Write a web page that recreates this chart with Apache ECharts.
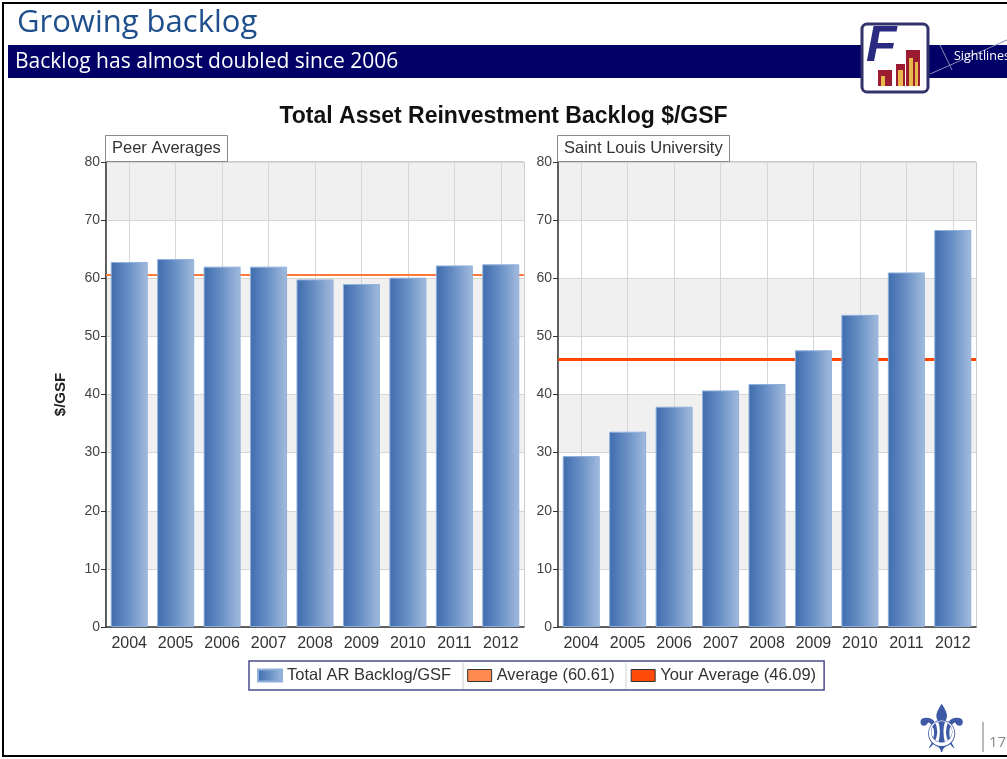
<!DOCTYPE html>
<html>
<head>
<meta charset="utf-8">
<script src="https://cdn.jsdelivr.net/npm/echarts@6/dist/echarts.min.js"></script>
<style>
html,body{margin:0;padding:0;background:#fff;}
#chart{width:1007px;height:759px;}
</style>
</head>
<body>
<div id="chart"></div>
<script>
const years = ['2004','2005','2006','2007','2008','2009','2010','2011','2012'];
const peerValues = [62.8, 63.3, 62.0, 62.0, 59.8, 59.0, 60.1, 62.2, 62.4];
const sluValues = [29.4, 33.6, 37.9, 40.7, 41.8, 47.6, 53.7, 61.0, 68.3];
const peerAverage = 60.61;
const sluAverage = 46.09;
const yMin = 0, yMax = 80, yStep = 10;
const panelNames = ['Peer Averages', 'Saint Louis University'];
const barName = 'Total AR Backlog/GSF';
const avgName = 'Average (' + peerAverage.toFixed(2) + ')';
const yourAvgName = 'Your Average (' + sluAverage.toFixed(2) + ')';

const chart = echarts.init(document.getElementById('chart'));
const F = 'Arial, "Liberation Sans", sans-serif';
const barGrad = {type:'linear',x:0,y:0,x2:1,y2:0,colorStops:[{offset:0,color:'#3f6cae'},{offset:0.5,color:'#6a91c6'},{offset:1,color:'#a2bbdc'}]};

function xAxis(i){
  return {type:'category', gridIndex:i, data:years, boundaryGap:true,
    axisLine:{lineStyle:{color:'#333',width:1.5}},
    axisTick:{alignWithLabel:true,length:5,lineStyle:{color:'#333'}},
    axisLabel:{color:'#333',fontSize:16,fontFamily:F,margin:9},
    splitLine:{show:false}};
}
function yAxis(i){
  return {type:'value', gridIndex:i, min:yMin, max:yMax, interval:yStep,
    name: i===0 ? '$/GSF' : '', nameLocation:'middle', nameGap:38,
    nameTextStyle:{fontFamily:F,fontSize:15,fontWeight:'bold',color:'#222'},
    axisLine:{show:true,lineStyle:{color:'#333',width:1.5}},
    axisTick:{show:true,length:5,lineStyle:{color:'#333'}},
    axisLabel:{color:'#444',fontSize:14,fontFamily:F,margin:6},
    splitLine:{lineStyle:{color:'#d6d6d6',width:1}},
    splitArea:{show:true,areaStyle:{color:['#ffffff','#f0f0f0']}}};
}
function vLines(i){
  return {type:'line', xAxisIndex:i, yAxisIndex:i, data:[], silent:true, z:1,
    markLine:{silent:true, z:1, symbol:['none','none'], label:{show:false},
      lineStyle:{color:'#d6d6d6',type:'solid',width:1},
      data: years.map(y => ({xAxis:y}))}};
}

const option = {
  animation:false,
  title:[
    {text:'Total Asset Reinvestment Backlog $/GSF', left:'center', top:105,
     textStyle:{fontFamily:F,fontSize:23,fontWeight:'bold',color:'#111'}, padding:0},
    {text:panelNames[0], left:105, top:135, padding:[5,7,5,7], borderColor:'#8a8a8a', borderWidth:1, backgroundColor:'#fff',
     textStyle:{fontFamily:F,fontSize:16.5,fontWeight:'normal',color:'#333'}},
    {text:panelNames[1], left:557, top:135, padding:[5,7,5,7], borderColor:'#8a8a8a', borderWidth:1, backgroundColor:'#fff',
     textStyle:{fontFamily:F,fontSize:16.5,fontWeight:'normal',color:'#333'}}
  ],
  grid:[
    {left:106, top:162, width:418, height:465, show:true, borderColor:'#999', borderWidth:1, backgroundColor:'transparent'},
    {left:558, top:162, width:418, height:465, show:true, borderColor:'#999', borderWidth:1, backgroundColor:'transparent'}
  ],
  xAxis:[xAxis(0), xAxis(1)],
  yAxis:[yAxis(0), yAxis(1)],
  legend:{
    left:249, top:661, padding:[6,8,6,8], itemWidth:24, itemHeight:12, itemGap:16,
    borderColor:'#4b4b8c', borderWidth:1.5, backgroundColor:'#fff',
    textStyle:{fontFamily:F,fontSize:16.5,color:'#333'},
    data:[
      {name:barName, icon:'rect'},
      {name:avgName, icon:'rect', itemStyle:{color:'#ff8a50',borderColor:'#333',borderWidth:1}},
      {name:yourAvgName, icon:'rect', itemStyle:{color:'#ff4a0a',borderColor:'#333',borderWidth:1}}
    ]
  },
  series:[
    vLines(0), vLines(1),
    {name:avgName, type:'line', xAxisIndex:0, yAxisIndex:0, data:[], z:1,
     itemStyle:{color:'#ff8a50'}, lineStyle:{color:'#ff7a3a'},
     markLine:{silent:true, z:1, symbol:['none','none'], label:{show:false},
       lineStyle:{color:'#ff7a3a',type:'solid',width:2}, data:[{yAxis:peerAverage}]}},
    {name:yourAvgName, type:'line', xAxisIndex:1, yAxisIndex:1, data:[], z:1,
     itemStyle:{color:'#ff4a0a'}, lineStyle:{color:'#ff4500'},
     markLine:{silent:true, z:1, symbol:['none','none'], label:{show:false},
       lineStyle:{color:'#ff4500',type:'solid',width:3}, data:[{yAxis:sluAverage}]}},
    {name:barName, type:'bar', xAxisIndex:0, yAxisIndex:0, data:peerValues, barWidth:37, z:2,
     itemStyle:{color:barGrad, borderColor:'#8fb0dc', borderWidth:1}},
    {name:barName, type:'bar', xAxisIndex:1, yAxisIndex:1, data:sluValues, barWidth:37, z:2,
     itemStyle:{color:barGrad, borderColor:'#8fb0dc', borderWidth:1}}
  ],
  graphic:[
    {type:'rect', shape:{x:3,y:3,width:1010,height:753}, style:{fill:'none',stroke:'#000',lineWidth:2}, z:100},
    {type:'text', left:17, top:8, style:{text:'Growing backlog', fontFamily:'"Open Sans", "Noto Sans", sans-serif', fontSize:31, fill:'#1f4e8c'}},
    {type:'rect', shape:{x:8,y:45,width:1000,height:33}, style:{fill:'#000066'}},
    {type:'text', left:15, top:52, style:{text:'Backlog has almost doubled since 2006', fontFamily:'"Open Sans", "Noto Sans", sans-serif', fontSize:21, fill:'#fff'}},
    {type:'line', shape:{x1:930,y1:74,x2:1007,y2:40}, style:{stroke:'#8a8ab8',lineWidth:1}},
    {type:'line', shape:{x1:940,y1:45,x2:952,y2:70}, style:{stroke:'#8a8ab8',lineWidth:1}},
    {type:'text', left:954, top:50, style:{text:'Sightlines', fontFamily:'"Open Sans", sans-serif', fontSize:12.5, fill:'#fff'}},
    {type:'rect', shape:{x:862,y:24,width:66,height:68,r:5}, style:{fill:'#fff',stroke:'#33336b',lineWidth:3}, z:10},
    {type:'text', left:866, top:22, style:{text:'F', fontFamily:F, fontSize:50, fontWeight:'bold', fontStyle:'italic', fill:'#2a2a80'}, z:11},
    {type:'rect', shape:{x:906,y:50,width:14,height:36}, style:{fill:'#9b1b30'}, z:11},
    {type:'rect', shape:{x:896,y:64,width:9,height:22}, style:{fill:'#9b1b30'}, z:11},
    {type:'rect', shape:{x:878,y:70,width:14,height:16}, style:{fill:'#9b1b30'}, z:11},
    {type:'rect', shape:{x:881,y:76,width:4,height:10}, style:{fill:'#e8b84a'}, z:12},
    {type:'rect', shape:{x:898,y:70,width:5,height:16}, style:{fill:'#e8b84a'}, z:12},
    {type:'rect', shape:{x:909,y:58,width:4,height:28}, style:{fill:'#e8b84a'}, z:12},
    {type:'rect', shape:{x:915,y:62,width:3,height:24}, style:{fill:'#e8b84a'}, z:12},
    {type:'text', left:109, top:168, style:{text:'© Sightlines 2001-2012', fontFamily:F, fontSize:13, fill:'#333'}},
    {type:'line', shape:{x1:463,y1:663,x2:463,y2:689}, style:{stroke:'#d0d0d0',lineWidth:1}, z:50},
    {type:'line', shape:{x1:626,y1:663,x2:626,y2:689}, style:{stroke:'#d0d0d0',lineWidth:1}, z:50},
    {type:'text', left:912, top:702, style:{text:'⚜', fontFamily:'"DejaVu Sans", sans-serif', fontSize:66, fill:'#3e5aa6'}},
    {type:'line', shape:{x1:983,y1:722,x2:983,y2:752}, style:{stroke:'#777',lineWidth:1}},
    {type:'text', left:989, top:735, style:{text:'17', fontFamily:'"Open Sans", sans-serif', fontSize:15, fill:'#888'}}
  ]
};
chart.setOption(option);
</script>
</body>
</html>
